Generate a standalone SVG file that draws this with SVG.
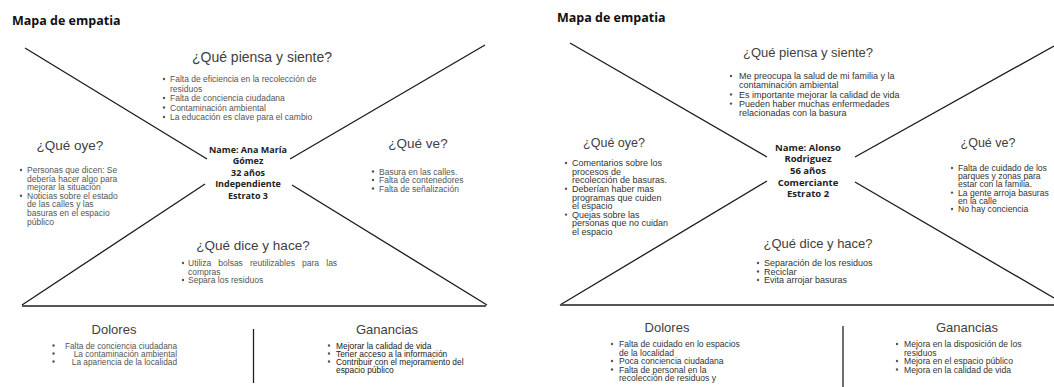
<svg xmlns="http://www.w3.org/2000/svg" width="1054" height="387" viewBox="0 0 1054 387">
<style>
.bg{fill:#fff}
.ttl{font-family:"Open Sans","Liberation Sans",sans-serif;font-weight:bold;font-size:12.5px;fill:#111}
.h{font-family:"Liberation Sans",Arial,sans-serif;fill:#404040;text-anchor:middle}
.b{font-family:"Liberation Sans",Arial,sans-serif;font-size:8.5px;fill:#555}
.bd{font-family:"Liberation Sans",Arial,sans-serif;font-size:9px;fill:#333}
.nm{font-family:"Open Sans","Liberation Sans",sans-serif;font-weight:bold;font-size:9px;fill:#222;text-anchor:middle}
.dot{fill:#555}
.dl{stroke:#1a1a1a;stroke-width:1.3;fill:none}
.hl{stroke:#555;stroke-width:2;fill:none}
.vl{stroke:#222;stroke-width:1.3;fill:none}
</style>
<rect class="bg" x="0" y="0" width="1054" height="387"/>

<g id="connectors">
  <line class="dl" x1="25" y1="48" x2="207" y2="159"/>
  <line class="dl" x1="290" y1="159" x2="485" y2="45"/>
  <line class="dl" x1="205" y1="184" x2="22" y2="305"/>
  <line class="dl" x1="292" y1="185" x2="487" y2="305"/>
  <line class="hl" x1="22" y1="306" x2="486" y2="306"/>
  <line class="vl" x1="253.5" y1="329" x2="253.5" y2="383"/>
  <line class="dl" x1="570" y1="43" x2="767" y2="157"/>
  <line class="dl" x1="855" y1="157" x2="1054" y2="46"/>
  <line class="dl" x1="767" y1="181" x2="560" y2="305"/>
  <line class="dl" x1="855" y1="182" x2="1054" y2="298"/>
  <line class="hl" x1="560" y1="305" x2="1054" y2="305"/>
  <line class="vl" x1="843" y1="326" x2="843" y2="387"/>
</g>

<g id="left-title"><text class="ttl" x="12" y="24.5">Mapa de empatia</text></g>

<g id="left-piensa">
  <text class="h" x="262" y="62" font-size="14">¿Qué piensa y siente?</text>
  <circle class="dot" cx="164" cy="79" r="1.2"/><circle class="dot" cx="164" cy="98" r="1.2"/><circle class="dot" cx="164" cy="107.5" r="1.2"/><circle class="dot" cx="164" cy="117" r="1.2"/>
  <text class="b"><tspan x="170" y="82">Falta de eficiencia en la recolección de</tspan><tspan x="170" y="91.5">residuos</tspan><tspan x="170" y="101">Falta de conciencia ciudadana</tspan><tspan x="170" y="110.5">Contaminación ambiental</tspan><tspan x="170" y="120">La educación es clave para el cambio</tspan></text>
</g>

<g id="left-oye">
  <text class="h" x="70" y="150" font-size="13.5">¿Qué oye?</text>
  <circle class="dot" cx="21" cy="170" r="1.2"/><circle class="dot" cx="21" cy="195.8" r="1.2"/>
  <text class="b"><tspan x="27" y="173">Personas que dicen: Se</tspan><tspan x="27" y="181.6">debería hacer algo para</tspan><tspan x="27" y="190.2">mejorar la situación</tspan><tspan x="27" y="198.8">Noticias sobre el estado</tspan><tspan x="27" y="207.4">de las calles y las</tspan><tspan x="27" y="216">basuras en el espacio</tspan><tspan x="27" y="224.6">público</tspan></text>
</g>

<g id="left-persona">
  <text class="nm"><tspan x="248" y="153">Name: Ana María</tspan><tspan x="248" y="164.4">Gómez</tspan><tspan x="248" y="175.8">32 años</tspan><tspan x="248" y="187.2">Independiente</tspan><tspan x="248" y="198.6">Estrato 3</tspan></text>
</g>

<g id="left-ve">
  <text class="h" x="418" y="148" font-size="13.5">¿Qué ve?</text>
  <circle class="dot" cx="373" cy="171.5" r="1.2"/><circle class="dot" cx="373" cy="180" r="1.2"/><circle class="dot" cx="373" cy="188.5" r="1.2"/>
  <text class="b"><tspan x="379" y="174.5">Basura en las calles.</tspan><tspan x="379" y="183">Falta de contenedores</tspan><tspan x="379" y="191.5">Falta de señalización</tspan></text>
</g>

<g id="left-dice">
  <text class="h" x="253" y="250" font-size="13.5">¿Qué dice y hace?</text>
  <circle class="dot" cx="183" cy="263" r="1.2"/><circle class="dot" cx="183" cy="280" r="1.2"/>
  <text class="b"><tspan x="188" y="266" word-spacing="4.8">Utiliza bolsas reutilizables para las</tspan><tspan x="188" y="274.5">compras</tspan><tspan x="188" y="283">Separa los residuos</tspan></text>
</g>

<g id="left-dolores">
  <text class="h" x="114" y="333.5" font-size="13">Dolores</text>
  <circle class="dot" cx="53.5" cy="345.5" r="1.2"/><circle class="dot" cx="53.5" cy="353.5" r="1.2"/><circle class="dot" cx="53.5" cy="361.5" r="1.2"/>
  <text class="b" style="font-size:8.3px" text-anchor="end"><tspan x="177" y="348.5">Falta de conciencia ciudadana</tspan><tspan x="177" y="356.5">La contaminación ambiental</tspan><tspan x="177" y="364.5">La apariencia de la localidad</tspan></text>
</g>

<g id="left-ganancias">
  <text class="h" x="387" y="333.5" font-size="13">Ganancias</text>
  <circle class="dot" cx="329" cy="345.5" r="1.2"/><circle class="dot" cx="329" cy="353.5" r="1.2"/><circle class="dot" cx="329" cy="361.5" r="1.2"/>
  <text class="b" style="font-size:8.4px;fill:#222"><tspan x="336" y="348.5">Mejorar la calidad de vida</tspan><tspan x="336" y="356.5">Tener acceso a la información</tspan><tspan x="336" y="364.5">Contribuir con el mejoramiento del</tspan><tspan x="336" y="372.5">espacio público</tspan></text>
</g>

<g id="right-title"><text class="ttl" x="557" y="22">Mapa de empatia</text></g>

<g id="right-piensa">
  <text class="h" x="808" y="56.5" font-size="13">¿Qué piensa y siente?</text>
  <circle class="dot" cx="731" cy="76" r="1.2"/><circle class="dot" cx="731" cy="94.4" r="1.2"/><circle class="dot" cx="731" cy="103.6" r="1.2"/>
  <text class="bd"><tspan x="739" y="79.2">Me preocupa la salud de mi familia y la</tspan><tspan x="739" y="88.4">contaminación ambiental</tspan><tspan x="739" y="97.6">Es importante mejorar la calidad de vida</tspan><tspan x="739" y="106.8">Pueden haber muchas enfermedades</tspan><tspan x="739" y="116">relacionadas con la basura</tspan></text>
</g>

<g id="right-oye">
  <text class="h" x="614" y="146.5" font-size="12.5">¿Qué oye?</text>
  <circle class="dot" cx="566" cy="163" r="1.2"/><circle class="dot" cx="566" cy="188.8" r="1.2"/><circle class="dot" cx="566" cy="214.6" r="1.2"/>
  <text class="bd"><tspan x="572" y="166.2">Comentarios sobre los</tspan><tspan x="572" y="174.8">procesos de</tspan><tspan x="572" y="183.4">recolección de basuras.</tspan><tspan x="572" y="192">Deberían haber mas</tspan><tspan x="572" y="200.6">programas que cuiden</tspan><tspan x="572" y="209.2">el espacio</tspan><tspan x="572" y="217.8">Quejas sobre las</tspan><tspan x="572" y="226.4">personas que no cuidan</tspan><tspan x="572" y="235">el espacio</tspan></text>
</g>

<g id="right-persona">
  <text class="nm" style="font-size:9.5px"><tspan x="808" y="150.5">Name: Alonso</tspan><tspan x="808" y="162.2">Rodriguez</tspan><tspan x="808" y="173.9">56 años</tspan><tspan x="808" y="185.6">Comerciante</tspan><tspan x="808" y="197.3">Estrato 2</tspan></text>
</g>

<g id="right-ve">
  <text class="h" x="988" y="146.5" font-size="12.5">¿Qué ve?</text>
  <circle class="dot" cx="952" cy="168" r="1.2"/><circle class="dot" cx="952" cy="192.6" r="1.2"/><circle class="dot" cx="952" cy="209" r="1.2"/>
  <text class="bd" style="font-size:8.6px"><tspan x="958" y="171">Falta de cuidado de los</tspan><tspan x="958" y="179.2">parques y zonas para</tspan><tspan x="958" y="187.4">estar con la familia.</tspan><tspan x="958" y="195.6">La gente arroja basuras</tspan><tspan x="958" y="203.8">en la calle</tspan><tspan x="958" y="212">No hay conciencia</tspan></text>
</g>

<g id="right-dice">
  <text class="h" x="818" y="247.5" font-size="13">¿Qué dice y hace?</text>
  <circle class="dot" cx="758" cy="263" r="1.2"/><circle class="dot" cx="758" cy="271.5" r="1.2"/><circle class="dot" cx="758" cy="280" r="1.2"/>
  <text class="bd"><tspan x="764" y="266">Separación de los residuos</tspan><tspan x="764" y="274.5">Reciclar</tspan><tspan x="764" y="283">Evita arrojar basuras</tspan></text>
</g>

<g id="right-dolores">
  <text class="h" x="667" y="331.5" font-size="13">Dolores</text>
  <circle class="dot" cx="612" cy="344" r="1.2"/><circle class="dot" cx="612" cy="361" r="1.2"/><circle class="dot" cx="612" cy="369.5" r="1.2"/>
  <text class="bd" style="font-size:8.6px"><tspan x="619" y="347">Falta de cuidado en lo espacios</tspan><tspan x="619" y="355.5">de la localidad</tspan><tspan x="619" y="364">Poca conciencia ciudadana</tspan><tspan x="619" y="372.5">Falta de personal en la</tspan><tspan x="619" y="381">recolección de residuos y</tspan></text>
</g>

<g id="right-ganancias">
  <text class="h" x="967" y="331.5" font-size="13">Ganancias</text>
  <circle class="dot" cx="897" cy="344" r="1.2"/><circle class="dot" cx="897" cy="361" r="1.2"/><circle class="dot" cx="897" cy="369.5" r="1.2"/>
  <text class="bd" style="font-size:8.6px"><tspan x="904" y="347">Mejora en la disposición de los</tspan><tspan x="904" y="355.5">residuos</tspan><tspan x="904" y="364">Mejora en el espacio público</tspan><tspan x="904" y="372.5">Mejora en la calidad de vida</tspan></text>
</g>
</svg>
